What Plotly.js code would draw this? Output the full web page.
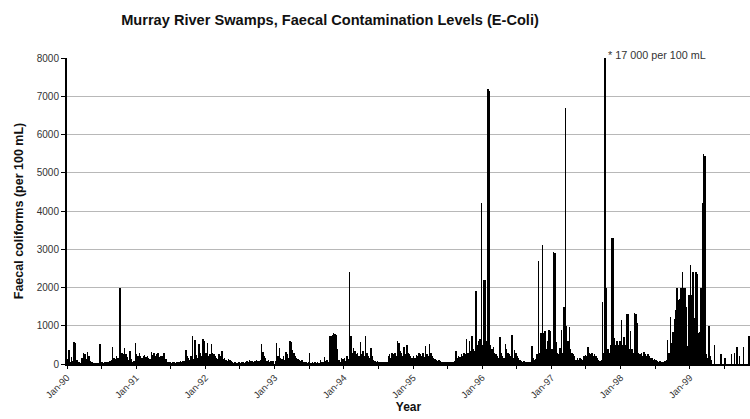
<!DOCTYPE html>
<html>
<head>
<meta charset="utf-8">
<script src="https://cdn.plot.ly/plotly-3.0.1.min.js"></script>
<style>html,body{margin:0;padding:0;background:#fff;}#chart{width:750px;height:419px;}</style>
</head>
<body>
<div id="chart"></div>
<script>
// Weekly faecal coliform readings (per 100 mL), one array per year
const fc1990 = [120,370,60,190,80,570,560,100,60,40,30,150,300,260,120,310,200,90,60,40,30,20,20,30,520,510,
                40,30,50,60,40,50,70,100,440,150,120,200,150,2000,1980,300,260,420,250,180,100,340,120,60,90,540];
const fc1991 = [250,200,280,220,150,200,240,180,210,160,120,320,230,280,200,250,300,180,220,200,300,280,120,
                60,40,50,30,40,60,30,50,40,60,70,50,80,90,370,200,150,100,200,720,120,630,240,150,520,300,200,650,610];
const fc1992 = [300,540,200,250,520,300,250,200,150,120,250,200,340,120,150,100,80,140,100,80,
                40,30,50,30,20,40,30,50,40,30,60,80,60,100,70,90,60,80,100,70,
                90,100,520,320,200,150,80,100,60,70,90,80];
const fc1993 = [80,540,200,410,150,120,200,100,320,250,150,600,580,370,300,200,150,120,100,90,
                100,50,40,60,30,40,280,30,40,30,50,20,40,30,100,60,50,180,90,100,
                60,720,720,760,820,780,760,400,100,60,150,120];
const fc1994 = [150,80,200,120,2400,740,300,410,350,250,300,200,570,250,350,200,720,300,200,150,
                410,200,100,80,60,80,60,50,50,40,50,40,60,200,250,150,300,250,300,200,
                610,550,350,300,200,450,250,500,300,250,200,150];
const fc1995 = [200,150,240,200,300,250,200,300,180,470,250,200,520,300,200,150,120,100,80,100,
                70,60,50,60,50,40,60,50,40,60,50,80,340,150,200,180,250,200,300,250,
                650,300,590,350,720,400,350,1900,500,600,650,4200];
const fc1996 = [500,2200,2200,600,7200,7150,500,400,450,300,250,200,150,700,300,200,150,530,400,300,
                250,200,760,150,370,300,200,150,100,80,60,80,60,50,40,60,50,470,150,100,
                120,250,2700,300,820,3100,820,870,400,600,890,850];
const fc1997 = [400,2930,2900,580,300,250,410,900,300,1500,6700,1000,600,970,400,300,250,200,100,150,
                100,150,120,100,200,240,200,440,300,250,300,200,250,200,150,100,80,100,
                1630,300,17000,2000,400,300,500,3300,3300,670,500,600,500,600];
const fc1998 = [1150,500,700,500,1300,1310,400,870,400,300,1330,1310,1080,300,250,300,200,320,250,200,
                250,200,150,150,100,120,100,80,60,80,60,50,60,80,100,630,300,1240,540,840,
                1170,1400,2000,1670,1700,2000,2410,2000,2000,1500,470,1800];
const fc1999 = [2600,1800,2400,1200,2400,2350,800,840,2000,4200,5500,5450,270,150,1000,200,100,0,500,0,
                0,0,0,270,0,0,145,0,0,0,0,270,0,280,0,440,0,200,0,0,440,0,0,0,730];

const years = [1990,1991,1992,1993,1994,1995,1996,1997,1998,1999];
const yearSeries = [fc1990,fc1991,fc1992,fc1993,fc1994,fc1995,fc1996,fc1997,fc1998,fc1999];

const tickDates = ['1990-01-01','1990-07-01','1991-01-01','1991-07-01','1992-01-01','1992-07-01',
                   '1993-01-01','1993-07-01','1994-01-01','1994-07-01','1995-01-01','1995-07-01',
                   '1996-01-01','1996-07-01','1997-01-01','1997-07-01','1998-01-01','1998-07-01',
                   '1999-01-01','1999-07-01'];
const tickLabels = ['Jan-90','','Jan-91','','Jan-92','','Jan-93','','Jan-94','','Jan-95','',
                    'Jan-96','','Jan-97','','Jan-98','','Jan-99',''];
const noteText = '* 17 000 per 100 mL';
const noteValue = 17000;

const DAY = 86400000;
const xs = [], ys = [];
years.forEach((yr, i) => {
  yearSeries[i].forEach((v, k) => {
    xs.push(new Date(Date.UTC(yr, 0, 1) + (k * 7 + 3) * DAY).toISOString().slice(0, 10));
    ys.push(v);
  });
});
const noteX = xs[ys.indexOf(noteValue)];

const FONT = 'Liberation Sans, Arial, sans-serif';
const trace = {
  type: 'bar', x: xs, y: ys, width: 7.6 * DAY,
  marker: {color: '#000', line: {width: 0}},
  hoverinfo: 'x+y'
};
const layout = {
  width: 750, height: 419,
  margin: {l: 67, r: 0, t: 58, b: 55},
  paper_bgcolor: '#fff', plot_bgcolor: '#fff',
  showlegend: false, bargap: 0,
  font: {family: FONT, color: '#333'},
  title: {
    text: '<b>Murray River Swamps, Faecal Contamination Levels (E-Coli)</b>',
    font: {family: FONT, size: 14.6, color: '#111'},
    x: 330 / 750, xref: 'container', xanchor: 'center',
    y: 1 - 20 / 419, yref: 'container', yanchor: 'middle'
  },
  xaxis: {
    type: 'date', range: ['1990-01-01', '1999-11-14'],
    tickmode: 'array', tickvals: tickDates, ticktext: tickLabels,
    tickangle: -45, ticks: 'outside', ticklen: 3, tickcolor: '#000',
    showline: true, linecolor: '#000', linewidth: 1.5,
    showgrid: false, zeroline: false,
    tickfont: {family: FONT, size: 9.5, color: '#333'},
    title: {text: '<b>Year</b>', font: {family: FONT, size: 12, color: '#111'}, standoff: 3}
  },
  yaxis: {
    range: [0, 8000], dtick: 1000, tick0: 0,
    ticks: 'outside', ticklen: 4, tickcolor: '#000',
    showline: true, linecolor: '#000', linewidth: 2,
    gridcolor: '#b8b8b8', gridwidth: 1, zeroline: false,
    tickfont: {family: FONT, size: 10, color: '#333'},
    title: {text: '<b>Faecal coliforms (per 100 mL)</b>', font: {family: FONT, size: 12.5, color: '#111'}, standoff: 10}
  },
  annotations: [{
    text: noteText, x: noteX, y: 8000, xref: 'x', yref: 'y',
    xanchor: 'left', yanchor: 'middle', xshift: 1, yshift: 3, showarrow: false,
    font: {family: FONT, size: 10.8, color: '#333'}
  }]
};
Plotly.newPlot('chart', [trace], layout, {displayModeBar: false, staticPlot: true});
</script>
</body>
</html>
